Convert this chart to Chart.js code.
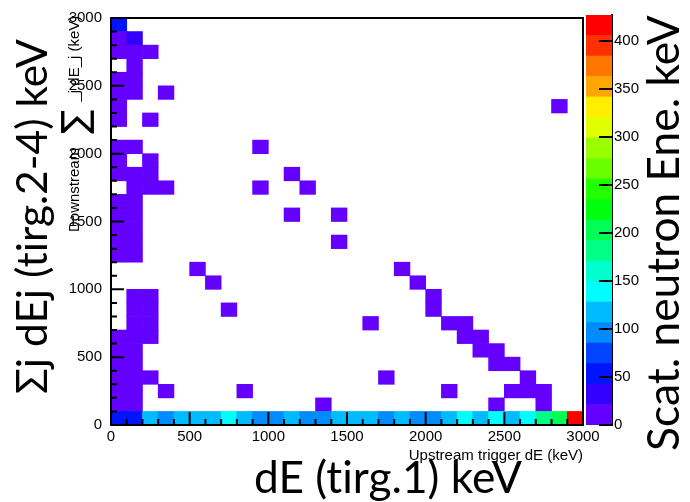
<!DOCTYPE html>
<html>
<head>
<meta charset="utf-8">
<script src="https://cdn.jsdelivr.net/npm/chart.js@4.4.0/dist/chart.umd.min.js"></script>
<style>
  html, body { margin: 0; padding: 0; background: #fff; }
  #wrap { position: relative; width: 690px; height: 502px; }
  #main { position: absolute; left: 0; top: 0; }
  #zbar { position: absolute; left: 586px; top: 0; }
</style>
</head>
<body>
<div id="wrap">
  <canvas id="main" width="690" height="502"></canvas>
  <canvas id="zbar" width="104" height="502"></canvas>
</div>
<script>
"use strict";

// Histogram bins (keV, lower edges) and their contents
const binWidth = 100;
const cellX = [
  0,
  0, 100,
  0, 100, 200,
  100,
  0, 100,
  0, 100, 300,
  0, 2800,
  0, 200,
  0, 100, 900,
  0, 200,
  0, 100, 200, 1100,
  100, 200, 300, 900, 1200,
  0, 100,
  0, 100, 1100, 1400,
  0, 100,
  0, 100, 1400,
  0, 100,
  500, 1800,
  600, 1900,
  100, 200, 2000,
  100, 200, 700, 2000,
  100, 200, 1600, 2100, 2200,
  0, 100, 200, 2200, 2300,
  0, 100, 2300, 2400,
  0, 100, 2400, 2500,
  0, 100, 200, 1700, 2600,
  0, 100, 300, 800, 2100, 2500, 2600, 2700,
  0, 100, 1300, 2400, 2700,
];
const cellY = [
  2900,
  2800, 2800,
  2700, 2700, 2700,
  2600,
  2500, 2500,
  2400, 2400, 2400,
  2300, 2300,
  2200, 2200,
  2000, 2000, 2000,
  1900, 1900,
  1800, 1800, 1800, 1800,
  1700, 1700, 1700, 1700, 1700,
  1600, 1600,
  1500, 1500, 1500, 1500,
  1400, 1400,
  1300, 1300, 1300,
  1200, 1200,
  1100, 1100,
  1000, 1000,
  900, 900, 900,
  800, 800, 800, 800,
  700, 700, 700, 700, 700,
  600, 600, 600, 600, 600,
  500, 500, 500, 500,
  400, 400, 400, 400,
  300, 300, 300, 300, 300,
  200, 200, 200, 200, 200, 200, 200, 200,
  100, 100, 100, 100, 100,
];
const cellZ = [
  54,
  9, 31,
  8, 10, 7,
  9,
  8, 9,
  10, 8, 6,
  9, 5,
  8, 6,
  9, 8, 5,
  8, 7,
  10, 9, 8, 5,
  9, 8, 6, 5, 5,
  9, 10,
  10, 9, 5, 5,
  9, 10,
  10, 9, 5,
  9, 11,
  5, 6,
  5, 6,
  8, 7, 6,
  9, 7, 5, 7,
  8, 8, 5, 7, 6,
  9, 10, 7, 7, 6,
  10, 9, 7, 6,
  11, 10, 7, 6,
  9, 10, 7, 5, 6,
  10, 11, 6, 5, 6, 7, 8, 6,
  12, 10, 5, 6, 7,
];
// bottom row (dE_j sum 0-100 keV), one value per 100 keV x-bin
const bottomRowZ = [
  55, 52, 118, 97, 115, 120, 117, 140, 113, 99,
  95, 116, 100, 94, 118, 121, 114, 96, 119, 101,
  98, 122, 143, 124, 139, 117, 145, 183, 205, 427,
];

// Colour scale
const zMax = 427;
const zEdges = [0, 21.35, 42.7, 64.05, 85.4, 106.75, 128.1, 149.45, 170.8, 192.15, 213.5,
  234.85, 256.2, 277.55, 298.9, 320.25, 341.6, 362.95, 384.3, 405.65, 427];
const zTicks = [0, 50, 100, 150, 200, 250, 300, 350, 400];
const bandHues = [263.2, 252, 235.2, 224, 207.2, 196, 179.2, 168, 151.2, 140,
  123.2, 112, 95.2, 84, 67.2, 56, 39.2, 28, 11.2, 0];
const bandColors = bandHues.map((h) => `hsl(${h}, 100%, 50%)`);

const axisFont = { family: "'Liberation Sans', Arial, sans-serif", size: 15 };
const bigFamily = "Lato, 'Open Sans', sans-serif";
const plainLabel = (v) => String(v);

function colorFor(z) {
  let k = 0;
  while (k < zEdges.length - 2 && z >= zEdges[k + 1]) k++;
  return bandColors[k];
}

// Build the bar data (floating bars, one per filled bin)
const cells = [];
const cellColors = [];
cellX.forEach((x, n) => {
  cells.push({ x: x + binWidth / 2, y: [cellY[n], cellY[n] + binWidth] });
  cellColors.push(colorFor(cellZ[n]));
});
bottomRowZ.forEach((z, i) => {
  cells.push({ x: i * binWidth + binWidth / 2, y: [0, binWidth] });
  cellColors.push(colorFor(z));
});

// ROOT-like inward ticks and frame
const frameTicks = {
  id: "frameTicks",
  afterDatasetsDraw(chart) {
    const { ctx, chartArea: a, scales: { x, y } } = chart;
    ctx.save();
    ctx.strokeStyle = "#000";
    ctx.lineWidth = 2;
    ctx.beginPath();
    for (let v = 0; v <= 3000; v += 100) {
      const len = v % 500 === 0 ? 13 : 6;
      const px = x.getPixelForValue(v);
      ctx.moveTo(px, a.bottom);
      ctx.lineTo(px, a.bottom - len);
      const py = y.getPixelForValue(v);
      ctx.moveTo(a.left, py);
      ctx.lineTo(a.left + len, py);
    }
    ctx.stroke();
    ctx.strokeRect(a.left, a.top, a.right - a.left, a.bottom - a.top);
    ctx.restore();
  },
};

function fitSize(ctx, text, family, length) {
  ctx.font = `100px ${family}`;
  return (100 * length) / ctx.measureText(text).width;
}

function drawRotated(ctx, text, family, length, x, y) {
  const size = fitSize(ctx, text, family, length);
  ctx.save();
  ctx.translate(x, y);
  ctx.rotate(-Math.PI / 2);
  ctx.font = `${size}px ${family}`;
  ctx.fillText(text, 0, 0);
  ctx.restore();
}

// zero-width non-joiner keeps Lato from fusing "ti"
const noLig = (s) => s.replace(/ti/g, "t\u200Ci");

const titles = {
  id: "titles",
  afterDraw(chart) {
    const ctx = chart.ctx;
    ctx.save();
    ctx.fillStyle = "#000";
    ctx.textAlign = "left";
    ctx.textBaseline = "alphabetic";

    // big slide titles
    const bottomText = noLig("dE (tirg.1) keV");
    ctx.font = `${fitSize(ctx, bottomText, bigFamily, 268)}px ${bigFamily}`;
    ctx.fillText(bottomText, 254, 493);
    drawRotated(ctx, noLig("Σj dEj (tirg.2-4) keV"), bigFamily, 355, 47, 394);
    drawRotated(ctx, "Scat. neutron Ene. keV", bigFamily, 436, 679, 451);

    // ROOT axis titles
    ctx.font = `15px ${axisFont.family}`;
    ctx.textAlign = "right";
    ctx.fillText("Upstream trigger dE (keV)", 583, 460);

    ctx.textAlign = "left";
    ctx.translate(79, 232);
    ctx.rotate(-Math.PI / 2);
    let pos = 0;
    ctx.font = `15px ${axisFont.family}`;
    ctx.fillText("Downstream", pos, 0);
    pos += ctx.measureText("Downstream").width + 14;
    ctx.font = `36px 'DejaVu Sans', sans-serif`;
    ctx.fillText("∑", pos, 8);
    pos += ctx.measureText("∑").width + 8;
    ctx.font = `15px ${axisFont.family}`;
    ctx.fillText("_j dE_j (keV)", pos, 0);
    ctx.restore();
  },
};

new Chart(document.getElementById("main"), {
  type: "bar",
  data: {
    datasets: [{
      data: cells,
      backgroundColor: cellColors,
      borderWidth: 0,
      barPercentage: 1,
      categoryPercentage: 1,
    }],
  },
  options: {
    responsive: false,
    animation: false,
    layout: { padding: { top: 15, right: 107, left: 0, bottom: 0 } },
    plugins: { legend: { display: false }, tooltip: { enabled: false } },
    scales: {
      x: {
        type: "linear",
        min: 0,
        max: 3000,
        offset: false,
        grid: { display: false, drawTicks: false, offset: false },
        border: { display: false },
        ticks: { stepSize: 500, includeBounds: false, maxRotation: 0, padding: 3, color: "#000", font: axisFont, callback: plainLabel },
        afterFit: (scale) => { scale.height = 77; },
      },
      y: {
        type: "linear",
        min: 0,
        max: 3000,
        grid: { display: false, drawTicks: false },
        border: { display: false },
        ticks: { stepSize: 500, includeBounds: false, padding: 9, color: "#000", font: axisFont, callback: plainLabel },
        afterFit: (scale) => { scale.width = 111; },
      },
    },
  },
  plugins: [frameTicks, titles],
});

// Colour bar
const zbarTicks = {
  id: "zbarTicks",
  afterDatasetsDraw(chart) {
    const { ctx, chartArea: a, scales: { y } } = chart;
    ctx.save();
    ctx.strokeStyle = "#000";
    ctx.lineWidth = 2;
    ctx.beginPath();
    zTicks.forEach((v) => {
      const py = y.getPixelForValue(v);
      ctx.moveTo(a.right, py);
      ctx.lineTo(a.right - 13, py);
    });
    ctx.stroke();
    ctx.restore();
  },
};

new Chart(document.getElementById("zbar"), {
  type: "bar",
  data: {
    labels: ["z"],
    datasets: bandColors.map((c, k) => ({
      data: [[zEdges[k], zEdges[k + 1]]],
      backgroundColor: c,
      borderWidth: 0,
      barPercentage: 1,
      categoryPercentage: 1,
      grouped: false,
    })),
  },
  options: {
    responsive: false,
    animation: false,
    layout: { padding: { top: 15, bottom: 77, left: 0, right: 0 } },
    plugins: { legend: { display: false }, tooltip: { enabled: false } },
    scales: {
      x: { display: false },
      y: {
        position: "right",
        min: 0,
        max: zMax,
        grid: { display: false, drawTicks: false },
        border: { display: true, color: "#000", width: 2 },
        ticks: { stepSize: 50, includeBounds: false, padding: 2, color: "#000", font: axisFont, callback: plainLabel },
        afterFit: (scale) => { scale.width = 78; },
      },
    },
  },
  plugins: [zbarTicks],
});
</script>
</body>
</html>
